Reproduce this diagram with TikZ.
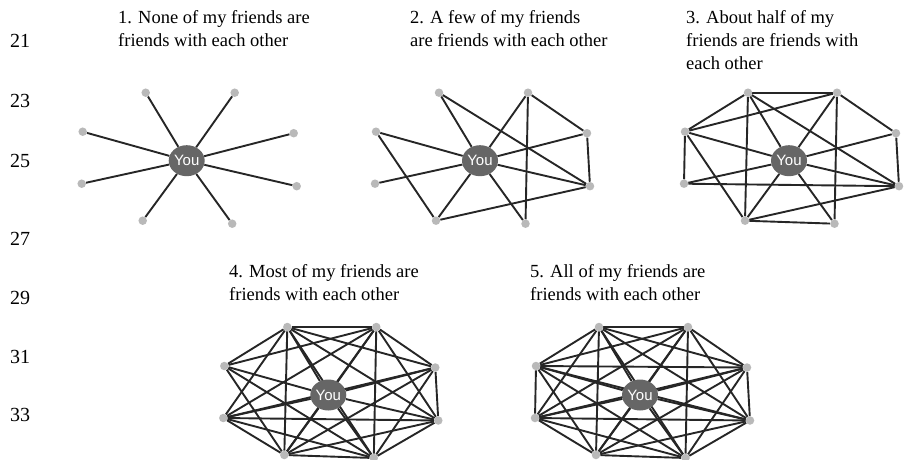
\documentclass[tikz,border=0pt]{standalone}
\usepackage{fontspec}
\setmainfont{Liberation Serif}
\newfontfamily\yousans{Liberation Sans}
\usetikzlibrary{calc,shapes.geometric}
\pgfdeclarelayer{background}
\pgfsetlayers{background,main}
\definecolor{edgecol}{HTML}{262626}
\definecolor{friendcol}{HTML}{B9B9B9}
\definecolor{youcol}{HTML}{666666}
\tikzset{
  friend/.style={circle,fill=friendcol,draw=none,minimum size=8.5pt,inner sep=0pt},
  younode/.style={ellipse,fill=youcol,draw=none,minimum width=36pt,minimum height=31pt,inner sep=0pt,text=white,font=\yousans\fontsize{15}{15}\selectfont},
  edge/.style={draw=edgecol,line width=1.9pt},
  caption/.style={anchor=base west,inner sep=0pt,font=\fontsize{18.5}{22}\selectfont},
  linenum/.style={anchor=base west,inner sep=0pt,font=\fontsize{20}{22}\selectfont}
}
\newcommand\friendgraph[3]{%
  \node[younode] (#1you) at (#2,#3) {You};
  \foreach \n/\dx/\dy in {TL/-41/-68, TR/48/-68, LU/-104/-29, RU/107/-27.5,
                          LL/-105/23, RL/110/25.5, BL/-44/60, BR/45.5/63}
    \node[friend] (#1\n) at (#2+\dx,#3+\dy) {};
}
\begin{document}
\begin{tikzpicture}[x=1pt,y=-1pt]
\useasboundingbox (0,0) rectangle (904,460);
% line numbers
\node[linenum] (n21) at (10,48) {21};
\node[linenum] (n23) at (10,107) {23};
\node[linenum] (n25) at (10,167) {25};
\node[linenum] (n27) at (10,245) {27};
\node[linenum] (n29) at (10,304) {29};
\node[linenum] (n31) at (10,363) {31};
\node[linenum] (n33) at (10,421) {33};
% captions
\node[caption] (c1a) at (118,24) {1. None of my friends are};
\node[caption] (c1b) at (118,47) {friends with each other};
\node[caption] (c2a) at (410,24) {2. A few of my friends};
\node[caption] (c2b) at (410,47) {are friends with each other};
\node[caption] (c3a) at (686,24) {3. About half of my};
\node[caption] (c3b) at (686,47) {friends are friends with};
\node[caption] (c3c) at (686,70) {each other};
\node[caption] (c4a) at (229,277) {4. Most of my friends are};
\node[caption] (c4b) at (229,300) {friends with each other};
\node[caption] (c5a) at (530,277) {5. All of my friends are};
\node[caption] (c5b) at (530,300) {friends with each other};
% graphs
\friendgraph{a}{186.7}{160.7}
\friendgraph{b}{480}{160.7}
\friendgraph{c}{789}{160.7}
\friendgraph{d}{328.3}{395}
\friendgraph{e}{640}{395}
\begin{pgfonlayer}{background}
  \foreach \g in {a,b,c,d,e}
    \foreach \n in {TL,TR,LU,RU,LL,RL,BL,BR}
      \draw[edge] (\g\n) -- (\g you);
  % graph 2
  \foreach \p/\q in {TL/RL, TR/RU, TR/BR, RU/RL, LU/BL, BL/RL}
    \draw[edge] (b\p) -- (b\q);
  % graph 3
  \foreach \p/\q in {TL/TR, TL/LU, TL/BL, TL/RL, TR/LU, TR/RU, TR/BR,
                     LU/LL, LU/BL, LL/RL, RU/RL, BL/RL, BL/BR}
    \draw[edge] (c\p) -- (c\q);
  % graph 4
  \foreach \p/\q in {TL/TR, TL/RU, TL/RL, TL/BR, TL/BL, TL/LL, TL/LU,
                     TR/RU, TR/RL, TR/BR, TR/BL, TR/LL, TR/LU,
                     RU/RL, RU/BR, RU/BL, RU/LL,
                     RL/BR, RL/BL, RL/LL,
                     BR/BL, BR/LL, BR/LU,
                     BL/LL, BL/LU}
    \draw[edge] (d\p) -- (d\q);
  % graph 5
  \foreach \p/\q in {TL/TR, TL/RU, TL/RL, TL/BR, TL/BL, TL/LL, TL/LU,
                     TR/RU, TR/RL, TR/BR, TR/BL, TR/LL, TR/LU,
                     RU/RL, RU/BR, RU/BL, RU/LL, RU/LU,
                     RL/BR, RL/BL, RL/LL, RL/LU,
                     BR/BL, BR/LL, BR/LU,
                     BL/LL, BL/LU,
                     LL/LU}
    \draw[edge] (e\p) -- (e\q);
\end{pgfonlayer}
\end{tikzpicture}
\end{document}
